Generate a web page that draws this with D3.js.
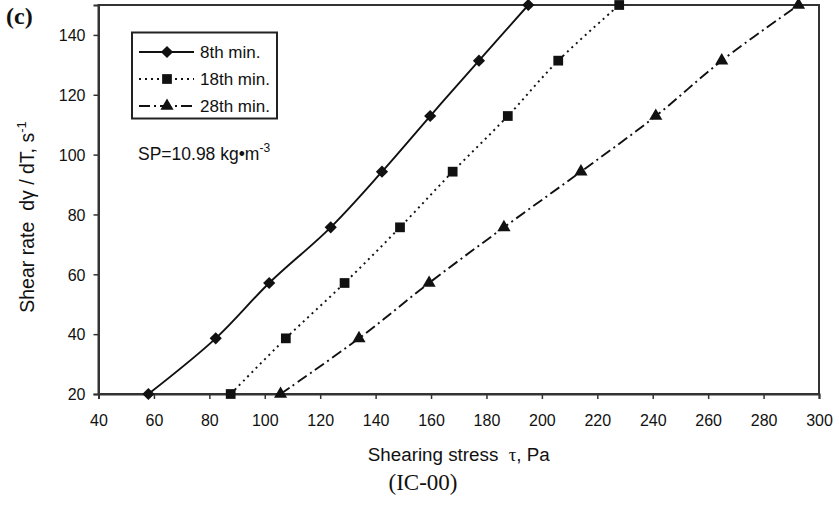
<!DOCTYPE html>
<html>
<head>
<meta charset="utf-8">
<script src="https://d3js.org/d3.v7.min.js"></script>
<style>
  body { margin: 0; background: #fff; }
  text { font-family: Arial, "Liberation Sans", sans-serif; fill: #111; white-space: pre; }
</style>
</head>
<body>
<svg width="839" height="506"></svg>
<script>
// shear rate levels (s^-1) and shearing stress (Pa) read for each series
var shearRate = [20, 38.6, 57.1, 75.7, 94.3, 112.9, 131.4, 150];
var stress8  = [58.0, 82.3, 101.6, 123.8, 142.3, 159.7, 177.3, 195.1];
var stress18 = [87.7, 107.6, 128.8, 148.8, 167.8, 187.7, 205.9, 227.9];
var stress28 = [105.7, 134.0, 159.3, 186.3, 214.1, 241.1, 264.9, 292.6];
var seriesNames = ["8th min.", "18th min.", "28th min."];
var xTicks = d3.range(40, 301, 20);
var yTicks = [20, 40, 60, 80, 100, 120, 140];

var svg = d3.select("svg");
var plotL = 98.5, plotR = 819, plotT = 5, plotB = 394;

var x = d3.scaleLinear().domain([40, 300]).range([plotL, plotR]);
var y = d3.scaleLinear().domain([20, 150]).range([plotB, plotT]);

var ink = "#111";
var series = [
  { name: seriesNames[0], xs: stress8,  dash: null,       shape: d3.symbolDiamond2, size: 95 },
  { name: seriesNames[1], xs: stress18, dash: "2,4",      shape: d3.symbolSquare,   size: 95 },
  { name: seriesNames[2], xs: stress28, dash: "11,4,2,4", shape: d3.symbolTriangle, size: 75 }
];

// frame
svg.append("rect")
  .attr("x", plotL).attr("y", plotT)
  .attr("width", plotR - plotL).attr("height", plotB - plotT)
  .attr("fill", "none").attr("stroke", "#333").attr("stroke-width", 2);

// axes
var xAxis = svg.append("g")
  .attr("transform", "translate(0," + plotB + ")")
  .call(d3.axisBottom(x).tickValues(xTicks).tickSize(5).tickPadding(16));
var yAxis = svg.append("g")
  .attr("transform", "translate(" + plotL + ",0)")
  .call(d3.axisLeft(y).tickValues(yTicks).tickSize(5).tickPadding(8));

[xAxis, yAxis].forEach(function(g) {
  g.select(".domain").attr("stroke", "#333").attr("stroke-width", 2);
  g.selectAll(".tick line").attr("stroke", "#333").attr("stroke-width", 1.5);
  g.selectAll(".tick text")
    .attr("font-family", "Arial, 'Liberation Sans', sans-serif")
    .attr("font-size", 16).attr("fill", ink);
});
yAxis.selectAll(".tick text").attr("dy", "0.36em");

var line = d3.line()
  .x(function(d) { return x(d[0]); })
  .y(function(d) { return y(d[1]); })
  .curve(d3.curveCatmullRom.alpha(0.5));

series.forEach(function(s) {
  var pts = s.xs.map(function(v, i) { return [v, shearRate[i]]; });
  svg.append("path")
    .datum(pts)
    .attr("d", line)
    .attr("fill", "none")
    .attr("stroke", ink)
    .attr("stroke-width", 1.9)
    .attr("stroke-dasharray", s.dash);

  svg.selectAll(null)
    .data(pts)
    .enter()
    .append("path")
    .attr("d", d3.symbol().type(s.shape).size(s.size))
    .attr("transform", function(d) {
      return "translate(" + x(d[0]) + "," + y(d[1]) + ")";
    })
    .attr("fill", ink);
});

// legend
var lg = svg.append("g");
lg.append("rect")
  .attr("x", 132).attr("y", 32.5)
  .attr("width", 145).attr("height", 86)
  .attr("fill", "#fff").attr("stroke", "#222").attr("stroke-width", 2);

series.forEach(function(s, i) {
  var cy = 52 + i * 27;
  lg.append("line")
    .attr("x1", 139).attr("x2", 194)
    .attr("y1", cy).attr("y2", cy)
    .attr("stroke", ink).attr("stroke-width", 1.9)
    .attr("stroke-dasharray", s.dash);
  lg.append("path")
    .attr("d", d3.symbol().type(s.shape).size(s.size))
    .attr("transform", "translate(167," + cy + ")")
    .attr("fill", ink);
  lg.append("text")
    .attr("x", 200).attr("y", cy + 6)
    .attr("font-size", 17)
    .text(s.name);
});

// annotation
var sp = svg.append("text").attr("x", 138).attr("y", 160).attr("font-size", 17.5);
sp.append("tspan").text("SP=10.98 kg\u2022m");
sp.append("tspan").attr("dy", -8).attr("font-size", 12).text("-3");

// panel letter
svg.append("text")
  .attr("x", 6).attr("y", 24)
  .style("font-family", "'Liberation Serif', 'Times New Roman', serif")
  .attr("font-weight", "bold").attr("font-size", 24)
  .text("(c)");

// axis titles
var xt = svg.append("text")
  .attr("x", (plotL + plotR) / 2).attr("y", 461)
  .attr("text-anchor", "middle").attr("font-size", 18.8);
xt.append("tspan").text("Shearing stress  ");
xt.append("tspan").style("font-family", "'Liberation Serif', serif").text("\u03c4");
xt.append("tspan").text(", Pa");

var yt = svg.append("text")
  .attr("transform", "translate(34,217) rotate(-90)")
  .attr("text-anchor", "middle").attr("font-size", 19.5);
yt.append("tspan").text("Shear rate  d\u03b3 / dT, s");
yt.append("tspan").attr("dy", -8).attr("font-size", 13).text("-1");

svg.append("text")
  .attr("x", 423).attr("y", 490)
  .attr("text-anchor", "middle")
  .style("font-family", "'Liberation Serif', 'Times New Roman', serif")
  .attr("font-size", 23)
  .text("(IC-00)");
</script>
</body>
</html>
